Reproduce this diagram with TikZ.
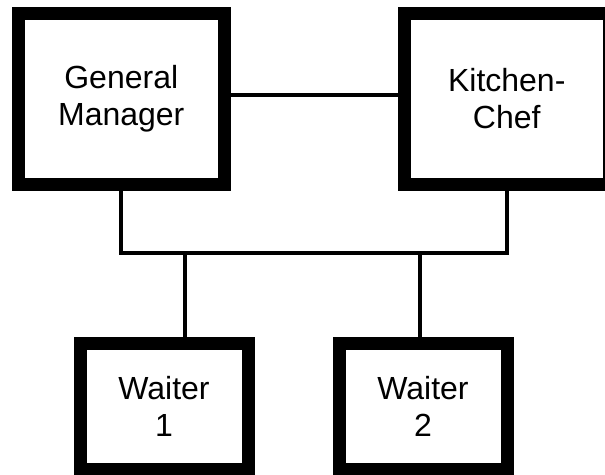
\documentclass[tikz,border=0pt]{standalone}
\usepackage{fontspec}
\setmainfont{Liberation Sans}
\usepackage{tikz}
\usetikzlibrary{positioning}

\begin{document}
\begin{tikzpicture}[x=1pt, y=-1pt,
  every node/.style={draw, rectangle, line width=13pt, inner sep=0pt, align=center, font=\fontsize{32}{37}\selectfont},
  bigbox/.style={minimum width=205.5pt, minimum height=170.5pt},
  smallbox/.style={minimum width=168pt, minimum height=126pt},
  link/.style={line width=4pt}]
\useasboundingbox (0,0) rectangle (605,474);
\node[bigbox] (GM) at (121.25,98.75) {General\\Manager};
\node[bigbox] (KC) at (506.75,98.75) {Kitchen-\\Chef};
\node[smallbox] (W1) at (164,406.5) {Waiter\\1};
\node[smallbox] (W2) at (423,406.5) {Waiter\\2};
\coordinate (BL) at (GM.south |- 0,253);
\coordinate (BR) at (KC.south |- 0,253);
\draw[link] ([yshift=4pt]GM.east) -- ([yshift=4pt]KC.west);
\draw[link] (GM.south) -- (BL) -- (BR) -- (KC.south);
\draw[link] ([xshift=21pt]W1.north) -- ([xshift=21pt]W1.north |- BL);
\draw[link] ([xshift=-3pt]W2.north) -- ([xshift=-3pt]W2.north |- BL);
\end{tikzpicture}
\end{document}
